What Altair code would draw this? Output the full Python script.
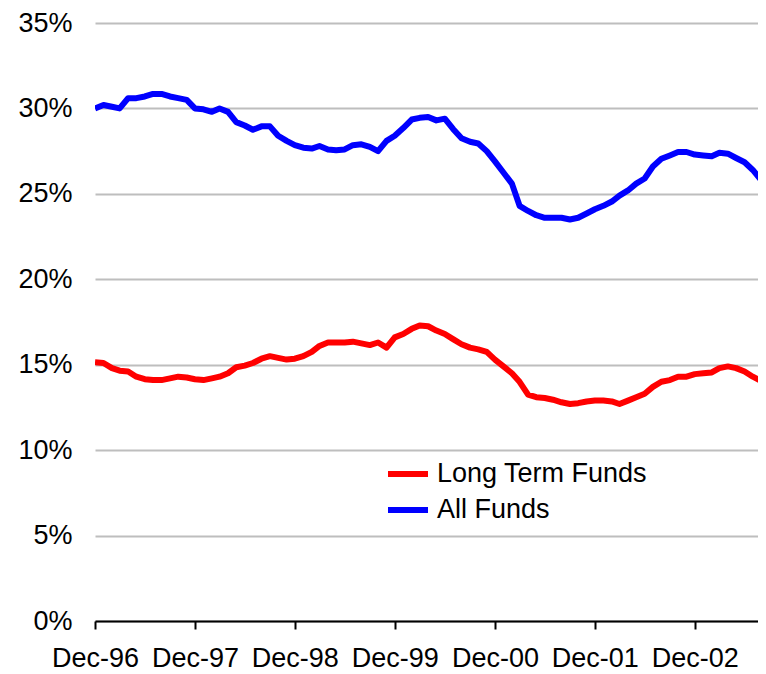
import altair as alt
import pandas as pd

start_month = "1996-12-01"
n_months = 81

all_funds = [
    30.0, 30.2, 30.1, 30.0, 30.6, 30.6, 30.7, 30.85, 30.85, 30.7, 30.6, 30.5,
    30.0, 29.95, 29.8, 30.0, 29.8, 29.2, 29.0, 28.75, 28.95, 28.95, 28.4, 28.1,
    27.85, 27.7, 27.65, 27.8, 27.6, 27.55, 27.6, 27.85, 27.9, 27.75, 27.5, 28.1,
    28.4, 28.85, 29.35, 29.45, 29.5, 29.3, 29.4, 28.8, 28.25, 28.05, 27.95, 27.5,
    26.9, 26.25, 25.6, 24.3, 24.0, 23.75, 23.6, 23.6, 23.6, 23.5, 23.6, 23.85,
    24.1, 24.3, 24.55, 24.9, 25.2, 25.6, 25.9, 26.6, 27.05, 27.25, 27.45, 27.45,
    27.3, 27.25, 27.2, 27.4, 27.35, 27.1, 26.85, 26.4, 25.8,
]

long_term = [
    15.15, 15.1, 14.8, 14.65, 14.6, 14.3, 14.15, 14.1, 14.1, 14.2, 14.3, 14.25,
    14.15, 14.1, 14.2, 14.3, 14.5, 14.85, 14.95, 15.1, 15.35, 15.5, 15.4, 15.3,
    15.35, 15.5, 15.75, 16.1, 16.3, 16.3, 16.3, 16.35, 16.25, 16.15, 16.3, 16.0,
    16.6, 16.8, 17.1, 17.3, 17.25, 17.0, 16.8, 16.5, 16.2, 16.0, 15.9, 15.75,
    15.3, 14.9, 14.5, 14.0, 13.25, 13.1, 13.05, 12.95, 12.8, 12.7, 12.75, 12.85,
    12.9, 12.9, 12.85, 12.7, 12.9, 13.1, 13.3, 13.7, 14.0, 14.1, 14.3, 14.3,
    14.45, 14.5, 14.55, 14.8, 14.9, 14.8, 14.6, 14.3, 14.05,
]

series_names = ["Long Term Funds", "All Funds"]
series_colors = ["#FF0000", "#0000FF"]
tick_dates = ["1996-12-01", "1997-12-01", "1998-12-01", "1999-12-01",
              "2000-12-01", "2001-12-01", "2002-12-01"]

dates = pd.date_range(start_month, periods=n_months, freq="MS")
df = pd.concat([
    pd.DataFrame({"date": dates, "value": [v / 100 for v in long_term], "series": series_names[0]}),
    pd.DataFrame({"date": dates, "value": [v / 100 for v in all_funds], "series": series_names[1]}),
])

font = "Liberation Sans"

chart = alt.Chart(df).mark_line(strokeWidth=6, clip=True, strokeJoin="round").encode(
    x=alt.X(
        "date:T",
        scale=alt.Scale(domain=[alt.DateTime(year=1996, month=12, date=1),
                                alt.DateTime(year=2003, month=7, date=20)]),
        axis=alt.Axis(
            values=[alt.DateTime(year=int(d[:4]), month=12, date=1) for d in tick_dates],
            format="%b-%y", title=None, grid=False,
            domainColor="black", domainWidth=2, tickColor="black", tickWidth=2,
            tickSize=8, labelPadding=16, labelFontSize=27, labelFont=font,
            labelColor="black", labelFlush=False, labelOverlap=False,
        ),
    ),
    y=alt.Y(
        "value:Q",
        scale=alt.Scale(domain=[0, 0.35]),
        axis=alt.Axis(
            values=[0, 0.05, 0.1, 0.15, 0.2, 0.25, 0.3, 0.35], format=".0%",
            title=None, domain=False, ticks=False, grid=True,
            gridColor="#BEBEBE", gridWidth=2, labelPadding=23,
            labelFontSize=27, labelFont=font, labelColor="black",
        ),
    ),
    color=alt.Color(
        "series:N",
        scale=alt.Scale(domain=series_names, range=series_colors),
        legend=alt.Legend(
            title=None, orient="none", legendX=290, legendY=428,
            symbolType="stroke", symbolSize=1600, symbolStrokeWidth=6,
            labelFontSize=27, labelFont=font, labelColor="black",
            rowPadding=-6, labelOffset=6, labelLimit=0,
        ),
    ),
).properties(
    width=663, height=598,
    autosize=alt.AutoSizeParams(type="none"),
    padding={"left": 87, "top": 15, "right": 0, "bottom": 51},
).configure(
    background="white",
    view=alt.ViewConfig(stroke=None),
)

chart.save("out.html", embed_options={"renderer": "svg", "actions": False})
